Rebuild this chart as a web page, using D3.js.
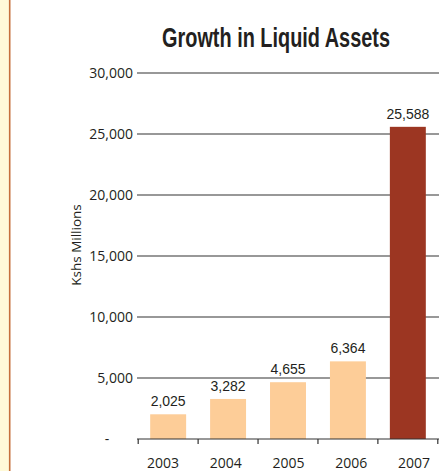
<!DOCTYPE html>
<html>
<head>
<meta charset="utf-8">
<script src="https://cdn.jsdelivr.net/npm/d3@7"></script>
<style>
  body { margin: 0; background: #fff; }
  svg { display: block; }
</style>
</head>
<body>
<div id="chart"></div>
<script>
// data
var years = ['2003', '2004', '2005', '2006', '2007'];
var assets = [2025, 3282, 4655, 6364, 25588];
var yTicks = [0, 5000, 10000, 15000, 20000, 25000, 30000];
var barColors = ['#fdcd98', '#fdcd98', '#fdcd98', '#fdcd98', '#9c3622'];

var W = 443, H = 471;
var svg = d3.select('#chart').append('svg')
  .attr('width', W).attr('height', H);

// left page strip
svg.append('rect').attr('x', 0).attr('y', 0).attr('width', 9).attr('height', H)
  .attr('fill', '#fffad8');
svg.append('line').attr('x1', 9.7).attr('x2', 9.7).attr('y1', 0).attr('y2', H)
  .attr('stroke', '#c5703c').attr('stroke-width', 1.6);

var x = d3.scaleBand().domain(years).range([137, 439])
  .paddingInner(0.4).paddingOuter(0.22);
// year labels sit on a slightly wider spacing than the bars
var xLab = d3.scalePoint().domain(years).range([163, 414]);
var y = d3.scaleLinear().domain([0, 30000]).range([439, 73]);
var fmt = d3.format(',');

// title (condensed bold) - squeeze a regular bold face to the reference width
var title = svg.append('text')
  .attr('x', 0).attr('y', 0)
  .attr('text-anchor', 'middle')
  .style('font-family', '"Liberation Sans", Arial, sans-serif')
  .style('font-weight', 'bold')
  .style('font-size', '27px')
  .attr('fill', '#231f20')
  .text('Growth in Liquid Assets');
var tw = title.node().getComputedTextLength() || 310;
title.attr('transform', 'translate(276,47) scale(' + (228 / tw) + ',1)');

// gridlines
svg.append('g').selectAll('line')
  .data(yTicks.filter(function(d){ return d > 0; }))
  .enter().append('line')
  .attr('x1', 137).attr('x2', 439)
  .attr('y1', function(d){ return y(d); })
  .attr('y2', function(d){ return y(d); })
  .attr('stroke', '#333').attr('stroke-width', 1.2);

// y tick labels
svg.append('g').selectAll('text')
  .data(yTicks)
  .enter().append('text')
  .attr('x', function(d){ return d === 0 ? 107 : 133; })
  .attr('y', function(d){ return y(d) + 5; })
  .attr('text-anchor', function(d){ return d === 0 ? 'middle' : 'end'; })
  .style('font-family', '"Open Sans", sans-serif')
  .style('font-size', '14px')
  .attr('fill', '#231f20')
  .text(function(d){ return d === 0 ? '-' : fmt(d); });

// y axis title
svg.append('text')
  .attr('transform', 'translate(81,245) rotate(-90)')
  .attr('text-anchor', 'middle')
  .style('font-family', '"Open Sans", sans-serif')
  .style('font-size', '13.5px')
  .attr('fill', '#231f20')
  .text('Kshs Millions');

// bars
svg.append('g').selectAll('rect')
  .data(assets)
  .enter().append('rect')
  .attr('x', function(d, i){ return x(years[i]); })
  .attr('y', function(d){ return y(d); })
  .attr('width', x.bandwidth())
  .attr('height', function(d){ return y(0) - y(d); })
  .attr('fill', function(d, i){ return barColors[i]; });

// value labels
svg.append('g').selectAll('text')
  .data(assets)
  .enter().append('text')
  .attr('x', function(d, i){ return x(years[i]) + x.bandwidth() / 2; })
  .attr('y', function(d){ return y(d) - 8; })
  .attr('text-anchor', 'middle')
  .style('font-family', '"Liberation Sans", Arial, sans-serif')
  .style('font-size', '14px')
  .attr('fill', '#231f20')
  .text(function(d){ return fmt(d); });

// x axis line + divider ticks
var step = x.step();
svg.append('line')
  .attr('x1', 137).attr('x2', 439).attr('y1', y(0)).attr('y2', y(0))
  .attr('stroke', '#333').attr('stroke-width', 1.2);
var dividers = [x(years[0]) + x.bandwidth() / 2 - step / 2].concat(
  years.map(function(d){ return x(d) + x.bandwidth() / 2 + step / 2; }));
svg.append('g').selectAll('line')
  .data(dividers)
  .enter().append('line')
  .attr('x1', function(d){ return d; }).attr('x2', function(d){ return d; })
  .attr('y1', y(0)).attr('y2', y(0) + 5)
  .attr('stroke', '#333').attr('stroke-width', 1.2);

// year labels
svg.append('g').selectAll('text')
  .data(years)
  .enter().append('text')
  .attr('x', function(d){ return xLab(d); })
  .attr('y', 468)
  .attr('text-anchor', 'middle')
  .style('font-family', '"Open Sans", sans-serif')
  .style('font-size', '14px')
  .attr('fill', '#231f20')
  .text(function(d){ return d; });
</script>
</body>
</html>
